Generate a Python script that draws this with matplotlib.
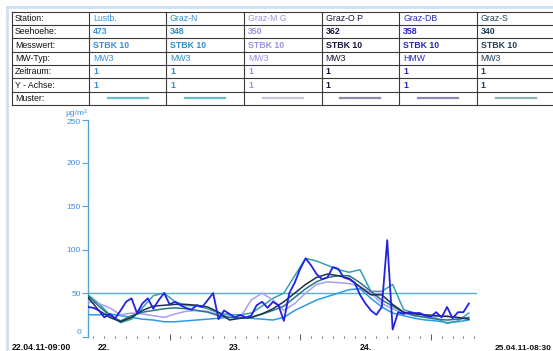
import numpy as np
import matplotlib
matplotlib.use("Agg")
import matplotlib.pyplot as plt
from matplotlib.ticker import FixedLocator, NullFormatter

plt.rcParams['font.family'] = ['Liberation Sans', 'DejaVu Sans']

# ---- station table ----
row_labels = ["Station:", "Seehoehe:", "Messwert:", "MW-Typ:", "Zeitraum:", "Y - Achse:", "Muster:"]
stations = ["Lustb.", "Graz-N", "Graz-M G", "Graz-O P", "Graz-DB", "Graz-S"]
altitudes = ["473", "348", "350", "362", "358", "340"]
measures = ["STBK 10"] * 6
mw_types = ["MW3", "MW3", "MW3", "MW3", "HMW", "MW3"]
periods = ["1"] * 6
y_axes = ["1"] * 6
text_colors = ["#3590dc", "#2f8fc4", "#9b92e0", "#16163c", "#2828b8", "#22405a"]
pattern_colors = ["#6cbdc6", "#6cbdc6", "#cac5d9", "#8a8aa8", "#8888b0", "#8fb0b0"]
line_colors = ["#2a9be8", "#35a3ad", "#a89ef2", "#1f2f4f", "#2222e6", "#2a7585"]

# ---- time series (hours after 22.04.11 09:00) ----
t_2h = list(range(0, 71, 2))
t_1h = list(range(0, 71, 1))
lustb = [25, 25, 26, 24, 22, 20, 19, 17, 17, 18, 19, 20, 21, 22, 22, 21, 20, 19,
         22, 30, 36, 42, 46, 50, 54, 55, 44, 34, 27, 24, 21, 19, 18, 16, 17, 19]
graz_n = [48, 38, 25, 16, 20, 33, 47, 50, 40, 36, 35, 32, 27, 25, 25, 27, 35, 44,
          50, 70, 90, 87, 82, 77, 74, 77, 52, 52, 60, 31, 27, 24, 21, 15, 18, 27]
graz_mg = [40, 38, 33, 25, 27, 26, 24, 22, 26, 29, 30, 29, 25, 23, 22, 42, 50, 42,
           30, 38, 50, 60, 63, 62, 61, 58, 50, 38, 32, 27, 24, 23, 23, 24, 21, 20]
graz_op = [45, 30, 22, 17, 22, 30, 35, 36, 37, 37, 36, 34, 28, 19, 21, 22, 26, 32,
           40, 50, 60, 68, 72, 70, 67, 57, 48, 48, 37, 28, 26, 25, 24, 23, 22, 20]
graz_db = [34, 33, 30, 22, 26, 21, 30, 40, 44, 27, 38, 44, 32, 42, 50, 37, 40, 36, 33, 31,
           36, 34, 42, 50, 20, 30, 26, 22, 25, 22, 24, 36, 40, 33, 40, 36, 18, 50, 62, 78,
           90, 82, 72, 66, 68, 80, 78, 68, 66, 62, 48, 38, 30, 25, 34, 111, 8, 28, 26, 28,
           27, 27, 24, 23, 28, 22, 34, 21, 28, 28, 38]
graz_s = [47, 35, 24, 18, 24, 28, 30, 32, 33, 32, 30, 28, 24, 22, 21, 22, 26, 30,
          35, 45, 55, 63, 68, 70, 70, 62, 52, 42, 35, 28, 24, 22, 20, 19, 20, 22]

series = [(t_2h, lustb), (t_2h, graz_n), (t_2h, graz_mg), (t_2h, graz_op), (t_1h, graz_db), (t_2h, graz_s)]
draw_order = [0, 1, 2, 5, 3, 4]

limit_value = 50
y_ticks = [0, 50, 100, 150, 200, 250]
day_labels = ["22.", "23.", "24."]
day_label_hours = [3, 27, 51]
midnight_hours = [15, 39, 63]
start_label = "22.04.11-09:00"
end_label = "25.04.11-08:30"
t_end = 71.5

W, H = 553, 351
fig = plt.figure(figsize=(W / 100, H / 100), dpi=100)

# pixel-space overlay for the frame, table and free labels
bg = fig.add_axes([0, 0, 1, 1])
bg.set_xlim(0, W)
bg.set_ylim(H, 0)
bg.axis("off")

frame_c = "#cfe0f2"
bg.plot([7, 7], [7, H], color=frame_c, lw=2)
bg.plot([7, W], [7, 7], color=frame_c, lw=2)

col_edges = [12, 89, 166, 244, 321.5, 399, 476.7, 554.4]
top, rh = 11.7, 13.33
n_rows = len(row_labels)
grid_c = "#3a3a3a"
for i in range(n_rows + 1):
    y = top + i * rh
    bg.plot([col_edges[0], col_edges[-1]], [y, y], color=grid_c, lw=0.8)
for x in col_edges:
    bg.plot([x, x], [top, top + n_rows * rh], color=grid_c, lw=0.8)

fs = 6.3
for i, lab in enumerate(row_labels):
    bg.text(col_edges[0] + 3, top + (i + 0.5) * rh, lab, fontsize=fs, color="#111111",
            va="center", ha="left")

rows = [stations, altitudes, measures, mw_types, periods, y_axes]
row_weights = ["normal", "bold", "bold", "normal", "bold", "bold"]
for j in range(len(stations)):
    x0 = col_edges[j + 1] + 4
    for i, row in enumerate(rows):
        bg.text(x0, top + (i + 0.5) * rh, row[j], fontsize=fs, color=text_colors[j],
                fontweight=row_weights[i], va="center", ha="left")
    xc = (col_edges[j + 1] + col_edges[j + 2]) / 2
    ym = top + 6.5 * rh
    bg.plot([xc - 20, xc + 20], [ym, ym], color=pattern_colors[j], lw=1.6)

# ---- chart axes ----
x_left, x_right = 88, 477
y_zero, y_top = 336.5, 119.5
ax = fig.add_axes([x_left / W, (H - y_zero) / H, (x_right - x_left) / W, (y_zero - y_top) / H])
ax.patch.set_alpha(0)
ax.set_xlim(0, t_end)
ax.set_ylim(0, 250)
for s in ["top", "right", "bottom"]:
    ax.spines[s].set_visible(False)
axis_c = "#5aa2da"
ax.spines["left"].set_color(axis_c)
ax.spines["left"].set_linewidth(1.0)

ax.axhline(limit_value, color="#5aaad8", lw=1.0, zorder=1)

for k in draw_order:
    t, v = series[k]
    ax.plot(t, v, color=line_colors[k], lw=1.3 if k == 4 else 1.1, zorder=3 + (k == 4))

ax.set_yticks(y_ticks)
ax.set_yticklabels([str(v) for v in y_ticks])
ax.tick_params(axis="y", colors=axis_c, labelcolor="#3a8fe0", labelsize=6, length=4, width=0.8, pad=1)
ylabels = ax.get_yticklabels()
ylabels[0].set_va("bottom")
ylabels[-1].set_va("top")

ax.xaxis.set_major_locator(FixedLocator(midnight_hours))
ax.xaxis.set_minor_locator(FixedLocator(list(range(1, 72, 2))))
ax.xaxis.set_major_formatter(NullFormatter())
ax.tick_params(axis="x", which="minor", length=2, width=0.6, colors="#555555", direction="inout")
ax.tick_params(axis="x", which="major", length=5, width=0.7, colors="#555555", direction="inout")

lab_y = 348
for h, lab in zip(day_label_hours, day_labels):
    xp = x_left + (x_right - x_left) * h / t_end
    bg.text(xp, lab_y, lab, fontsize=fs, fontweight="bold", color="#111111", ha="center", va="center")
bg.text(12, lab_y, start_label, fontsize=fs, fontweight="bold", color="#111111", ha="left", va="center")
bg.text(552, lab_y, end_label, fontsize=6.0, fontweight="bold", color="#111111", ha="right", va="center")
bg.text(87, 113, "µg/m³", fontsize=6, color="#3a8fe0", ha="right", va="center")

fig.savefig("out.png", dpi=100)
